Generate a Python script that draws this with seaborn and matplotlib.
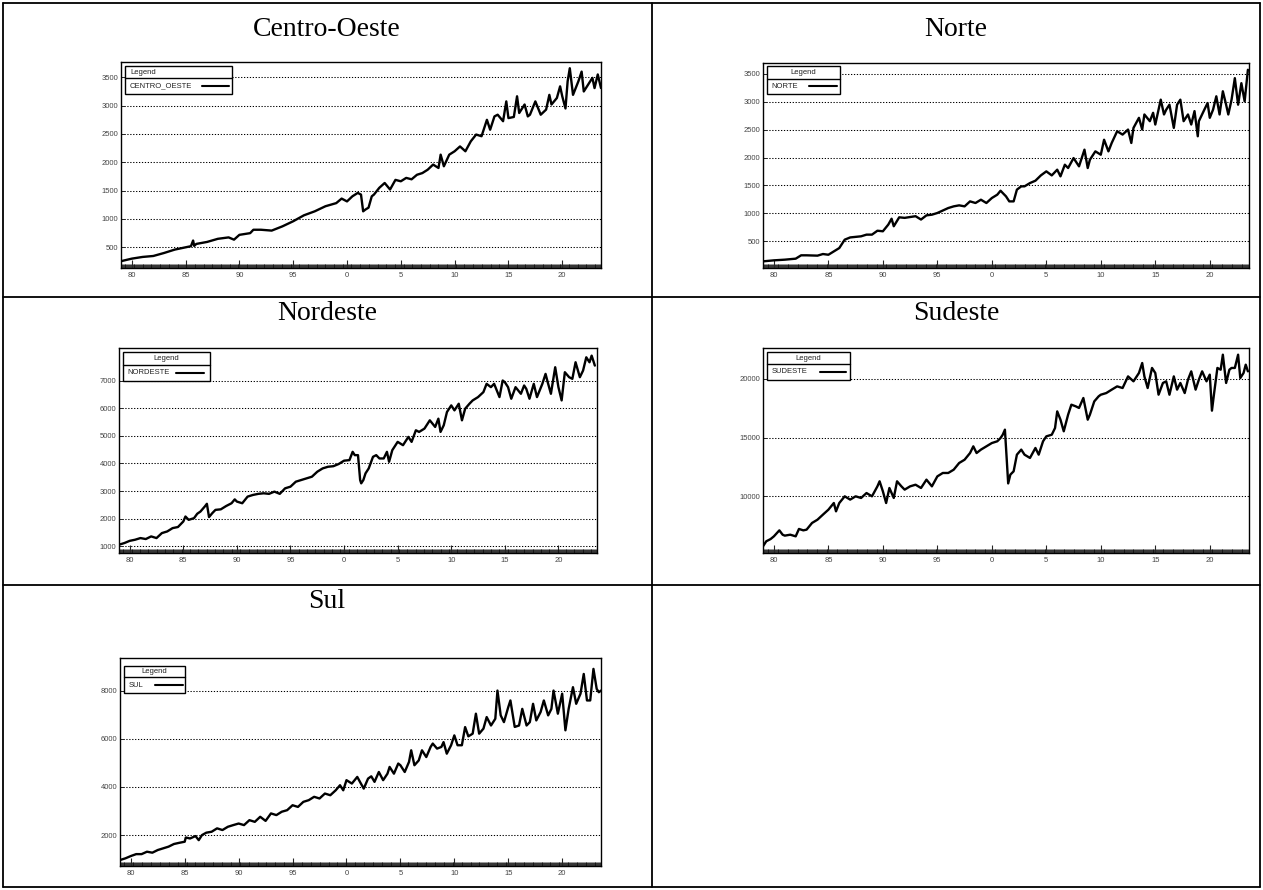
import matplotlib
matplotlib.use("Agg")
import numpy as np
import pandas as pd
import seaborn as sns
import matplotlib.pyplot as plt
from matplotlib.patches import Rectangle
from matplotlib.lines import Line2D
from matplotlib.ticker import MultipleLocator

# ---------------- data ----------------
co_t = [1979.0, 1980, 1981, 1982, 1983, 1984, 1985, 1985.5, 1985.7, 1985.8, 1986, 1987, 1988, 1989, 1989.5,
        1990, 1991, 1991.3, 1992, 1993, 1994, 1995, 1996, 1997, 1998, 1999, 1999.5, 2000, 2000.5, 2001,
        2001.3, 2001.5, 2001.7, 2002, 2002.3, 2002.5, 2003, 2003.5, 2004, 2004.5, 2005, 2005.5, 2006, 2006.5, 2007,
        2007.5, 2008, 2008.5, 2008.7, 2009, 2009.5, 2010, 2010.5, 2011, 2011.5, 2012, 2012.5, 2013, 2013.3, 2013.7,
        2014, 2014.5, 2014.8, 2015, 2015.5, 2015.8, 2016, 2016.5, 2016.8, 2017, 2017.5, 2018, 2018.5, 2018.8, 2019,
        2019.5, 2019.8, 2020, 2020.3, 2020.5, 2020.7, 2021, 2021.5, 2021.8, 2022, 2022.5, 2022.8, 2023, 2023.3, 2023.6]
co_v = [255, 300, 330, 347, 400, 460, 500, 520, 620, 525, 560, 595, 650, 675, 635,
        720, 750, 810, 810, 795, 870, 960, 1065, 1135, 1225, 1280, 1360, 1310, 1400, 1460,
        1430, 1135, 1165, 1200, 1400, 1430, 1550, 1635, 1520, 1690, 1665, 1725, 1700, 1780, 1810,
        1870, 1960, 1900, 2135, 1930, 2135, 2195, 2280, 2195, 2370, 2490, 2460, 2750, 2575, 2810,
        2840, 2725, 3075, 2780, 2800, 3165, 2870, 3020, 2810, 2840, 3075, 2840, 2930, 3190, 3020,
        3135, 3340, 3165, 2950, 3430, 3660, 3190, 3430, 3600, 3250, 3400, 3490, 3310, 3550, 3310]

no_t = [1979.0, 1980, 1981, 1982, 1982.5, 1983, 1984, 1984.5, 1985, 1985.5, 1986, 1986.5, 1987, 1988, 1988.5,
        1989, 1989.5, 1990, 1990.5, 1990.8, 1991, 1991.5, 1992, 1993, 1993.5, 1994, 1994.5, 1995, 1996, 1996.5,
        1997, 1997.5, 1998, 1998.5, 1999, 1999.5, 2000, 2000.5, 2000.8, 2001, 2001.3, 2001.6, 2002.0, 2002.3, 2002.7,
        2003, 2003.5, 2004, 2004.5, 2005, 2005.5, 2006, 2006.3, 2006.7, 2007, 2007.5, 2008, 2008.5, 2008.8, 2009,
        2009.5, 2010, 2010.3, 2010.7, 2011, 2011.5, 2012, 2012.5, 2012.8, 2013, 2013.5, 2013.8, 2014, 2014.5, 2014.8,
        2015, 2015.5, 2015.8, 2016, 2016.3, 2016.7, 2017, 2017.3, 2017.6, 2018, 2018.3, 2018.6, 2018.9, 2019, 2019.5,
        2019.8, 2020, 2020.3, 2020.6, 2020.9, 2021.2, 2021.5, 2021.7, 2022, 2022.3, 2022.6, 2022.9, 2023.2, 2023.5]
no_v = [142, 160, 172, 190, 250, 250, 244, 273, 260, 320, 380, 530, 570, 590, 620,
        620, 690, 680, 800, 905, 770, 930, 920, 950, 890, 965, 977, 1007, 1096, 1126,
        1144, 1126, 1215, 1186, 1245, 1186, 1275, 1335, 1406, 1365, 1305, 1215, 1215, 1425, 1484,
        1484, 1543, 1585, 1680, 1752, 1680, 1782, 1663, 1871, 1812, 1990, 1842, 2140, 1812, 1960,
        2110, 2050, 2318, 2110, 2260, 2470, 2410, 2500, 2260, 2530, 2710, 2500, 2770, 2650, 2800,
        2590, 3035, 2770, 2855, 2945, 2530, 2945, 3035, 2650, 2770, 2590, 2830, 2380, 2650, 2855,
        2975, 2710, 2855, 3095, 2770, 3185, 2945, 2770, 3035, 3420, 2945, 3330, 3005, 3570]

ne_t = [1979.0, 1979.5, 1980, 1980.5, 1981, 1981.5, 1982, 1982.5, 1983, 1983.5, 1984, 1984.5, 1985, 1985.2, 1985.5,
        1986, 1986.3, 1986.6, 1987, 1987.2, 1987.4, 1987.7, 1988, 1988.5, 1989, 1989.5, 1989.8, 1990, 1990.5, 1991,
        1991.5, 1992, 1992.5, 1993, 1993.5, 1994, 1994.5, 1995, 1995.5, 1996, 1996.5, 1997, 1997.5, 1998, 1998.5,
        1999, 1999.5, 2000, 2000.5, 2000.8, 2001, 2001.3, 2001.5, 2001.6, 2001.8, 2002, 2002.3, 2002.7, 2003, 2003.3,
        2003.7, 2004, 2004.2, 2004.5, 2005, 2005.5, 2006, 2006.3, 2006.7, 2007, 2007.5, 2008, 2008.5, 2008.8, 2009,
        2009.3, 2009.6, 2010, 2010.3, 2010.7, 2011, 2011.3, 2011.7, 2012, 2012.5, 2013, 2013.3, 2013.7, 2014, 2014.5,
        2014.8, 2015, 2015.3, 2015.6, 2016, 2016.5, 2016.8, 2017, 2017.3, 2017.7, 2018, 2018.5, 2018.8, 2019, 2019.3,
        2019.7, 2020, 2020.3, 2020.6, 2021, 2021.3, 2021.6, 2022, 2022.3, 2022.6, 2022.9, 2023.1, 2023.4]
ne_v = [1060, 1120, 1200, 1240, 1300, 1265, 1360, 1300, 1480, 1540, 1660, 1700, 1900, 2080, 1960,
        2020, 2180, 2260, 2440, 2540, 2060, 2200, 2320, 2340, 2460, 2560, 2700, 2620, 2560, 2800,
        2860, 2900, 2920, 2900, 2980, 2900, 3100, 3160, 3340, 3400, 3460, 3520, 3700, 3820, 3880,
        3900, 3980, 4100, 4120, 4420, 4300, 4300, 3400, 3280, 3400, 3640, 3820, 4240, 4300, 4180,
        4180, 4420, 4060, 4480, 4780, 4660, 4960, 4780, 5200, 5140, 5260, 5560, 5320, 5620, 5140,
        5380, 5860, 6100, 5920, 6160, 5560, 5980, 6160, 6280, 6400, 6580, 6880, 6760, 6880, 6400,
        7000, 6940, 6760, 6340, 6760, 6520, 6820, 6700, 6340, 6880, 6400, 6880, 7240, 6940, 6520,
        7480, 6760, 6280, 7300, 7120, 7060, 7660, 7120, 7360, 7840, 7660, 7900, 7540]

se_t = [1979.0, 1979.3, 1979.7, 1980, 1980.5, 1980.8, 1981, 1981.5, 1982, 1982.3, 1982.7, 1983, 1983.5, 1984, 1984.5,
        1985, 1985.5, 1985.7, 1986, 1986.5, 1987, 1987.5, 1988, 1988.5, 1989, 1989.5, 1989.7, 1990, 1990.3, 1990.6,
        1991, 1991.3, 1991.7, 1992, 1992.5, 1993, 1993.5, 1994, 1994.5, 1995, 1995.5, 1996, 1996.5, 1997, 1997.5,
        1998, 1998.3, 1998.6, 1999, 1999.5, 2000, 2000.5, 2000.8, 2001.0, 2001.2, 2001.35, 2001.5, 2001.7, 2002, 2002.3,
        2002.7, 2003, 2003.5, 2004, 2004.3, 2004.7, 2005, 2005.5, 2005.8, 2006, 2006.3, 2006.6, 2007, 2007.3, 2007.7,
        2008, 2008.4, 2008.8, 2009, 2009.4, 2009.8, 2010, 2010.5, 2011, 2011.5, 2012, 2012.5, 2013, 2013.5, 2013.8,
        2014, 2014.3, 2014.7, 2015, 2015.3, 2015.7, 2016, 2016.3, 2016.7, 2017, 2017.3, 2017.7, 2018, 2018.3, 2018.7,
        2019, 2019.3, 2019.7, 2020, 2020.2, 2020.4, 2020.7, 2021, 2021.2, 2021.5, 2021.8, 2022, 2022.3, 2022.6, 2022.8,
        2023.1, 2023.3, 2023.5]
se_v = [5740, 6170, 6360, 6590, 7100, 6730, 6650, 6730, 6590, 7220, 7100, 7160, 7730, 8010, 8440,
        8860, 9430, 8720, 9430, 10000, 9720, 10000, 9860, 10280, 10000, 10850, 11280, 10430, 9430, 10710,
        9860, 11280, 10850, 10570, 10850, 10990, 10710, 11420, 10850, 11700, 11990, 11990, 12270, 12840, 13120,
        13690, 14260, 13690, 13980, 14260, 14540, 14690, 14970, 15250, 15680, 13410, 11100, 11850, 12130, 13550,
        13980, 13550, 13270, 14120, 13550, 14690, 15110, 15250, 15820, 17240, 16530, 15540, 16960, 17810, 17670,
        17530, 18380, 16530, 16960, 18090, 18520, 18660, 18800, 19090, 19370, 19230, 20220, 19800, 20510, 21360,
        20220, 19230, 20940, 20510, 18660, 19660, 19800, 18660, 20220, 19090, 19660, 18800, 19940, 20650, 19090,
        19940, 20650, 19800, 20370, 17300, 18800, 20940, 20790, 22070, 19660, 20790, 20940, 20940, 22070, 20080,
        20510, 21220, 20650]

su_t = [1979.0, 1979.5, 1980, 1980.5, 1981, 1981.5, 1982, 1982.5, 1983, 1983.5, 1984, 1984.5, 1985, 1985.1, 1985.5,
        1986, 1986.3, 1986.6, 1987, 1987.5, 1988, 1988.5, 1989, 1989.5, 1990, 1990.5, 1991, 1991.5, 1992, 1992.5,
        1993, 1993.5, 1994, 1994.5, 1995, 1995.5, 1996, 1996.5, 1997, 1997.5, 1998, 1998.5, 1999, 1999.4, 1999.7,
        2000, 2000.5, 2001, 2001.3, 2001.6, 2002, 2002.3, 2002.6, 2003, 2003.4, 2003.8, 2004, 2004.4, 2004.8, 2005,
        2005.4, 2005.8, 2006, 2006.3, 2006.7, 2007, 2007.4, 2007.8, 2008, 2008.4, 2008.8, 2009, 2009.3, 2009.7, 2010,
        2010.3, 2010.7, 2011, 2011.3, 2011.7, 2012, 2012.3, 2012.7, 2013, 2013.4, 2013.8, 2014, 2014.3, 2014.6, 2015,
        2015.2, 2015.6, 2016, 2016.3, 2016.7, 2017, 2017.3, 2017.6, 2018, 2018.3, 2018.7, 2019, 2019.2, 2019.6, 2020,
        2020.3, 2020.6, 2021, 2021.3, 2021.7, 2022, 2022.3, 2022.6, 2022.9, 2023.2, 2023.4, 2023.6]
su_v = [965, 1035, 1130, 1210, 1210, 1310, 1270, 1380, 1450, 1520, 1630, 1680, 1725, 1900, 1860,
        1960, 1790, 2000, 2100, 2140, 2280, 2210, 2345, 2415, 2480, 2415, 2620, 2550, 2760, 2590,
        2900, 2830, 2970, 3035, 3240, 3170, 3380, 3450, 3590, 3520, 3725, 3655, 3860, 4070, 3860,
        4280, 4140, 4415, 4170, 3930, 4345, 4440, 4210, 4620, 4280, 4550, 4830, 4550, 4970, 4900,
        4620, 5040, 5520, 4900, 5100, 5520, 5240, 5660, 5800, 5590, 5660, 5860, 5380, 5730, 6140,
        5730, 5730, 6485, 6100, 6210, 7040, 6210, 6420, 6900, 6550, 6830, 8000, 6970, 6690, 7310,
        7590, 6490, 6550, 7240, 6550, 6690, 7450, 6760, 7110, 7590, 6970, 7240, 8000, 7040, 7870,
        6350, 7240, 8140, 7450, 7870, 8690, 7590, 7590, 8900, 8070, 7930, 8000]

titles = ["Centro-Oeste", "Norte", "Nordeste", "Sudeste", "Sul"]
series_names = ["CENTRO_OESTE", "NORTE", "NORDESTE", "SUDESTE", "SUL"]
x_tick_years = [1980, 1985, 1990, 1995, 2000, 2005, 2010, 2015, 2020]
x_tick_labels = ["80", "85", "90", "95", "0", "5", "10", "15", "20"]
y_ticks = [[500, 1000, 1500, 2000, 2500, 3000, 3500],
           [500, 1000, 1500, 2000, 2500, 3000, 3500],
           [1000, 2000, 3000, 4000, 5000, 6000, 7000],
           [10000, 15000, 20000],
           [2000, 4000, 6000, 8000]]

# ---------------- layout ----------------
W, H = 1263, 890
sns.set_style("white")
plt.rcParams["font.family"] = ["Liberation Sans", "DejaVu Sans"]

fig = plt.figure(figsize=(W / 100, H / 100), dpi=100)
fig.patch.set_facecolor("white")

def fline(x0, y0, x1, y1, lw=1.3):
    fig.add_artist(Line2D([x0 / W, x1 / W], [1 - y0 / H, 1 - y1 / H],
                          transform=fig.transFigure, color="black", lw=lw))

# table borders
fline(3, 3, 1260, 3)
fline(3, 887, 1260, 887)
fline(3, 3, 3, 887)
fline(1260, 3, 1260, 887)
fline(652, 3, 652, 887)
fline(3, 297, 1260, 297)
fline(3, 585, 1260, 585)

# (series, title centre (x,y), axes box (l,t,r,b) px, ylim, legend geometry, header alignment)
panels = [
    (co_t, co_v, (327, 30), (121, 62, 601, 268), (135, 3770),
     dict(x1=0.231, top=0.979, div=0.922, bot=0.845, s0=0.168, s1=0.226), "left"),
    (no_t, no_v, (956, 30), (763, 63, 1249, 268), (23, 3691),
     dict(x1=0.159, top=0.984, div=0.922, bot=0.850, s0=0.095, s1=0.152), "center"),
    (ne_t, ne_v, (327, 313), (119, 348, 597, 553), (760, 8176),
     dict(x1=0.191, top=0.979, div=0.917, bot=0.841, s0=0.119, s1=0.177), "center"),
    (se_t, se_v, (956, 313), (763, 348, 1249, 553), (5170, 22640),
     dict(x1=0.180, top=0.980, div=0.922, bot=0.846, s0=0.117, s1=0.171), "center"),
    (su_t, su_v, (327, 602), (120, 658, 601, 866), (717, 9352),
     dict(x1=0.135, top=0.963, div=0.907, bot=0.832, s0=0.073, s1=0.131), "center"),
]

for i, (t, v, tpos, box, ylim, lg, halign) in enumerate(panels):
    fig.text(tpos[0] / W, 1 - tpos[1] / H, titles[i], ha="center", va="center",
             fontsize=20, color="black", family=["Liberation Serif", "DejaVu Serif"])
    l, tp, r, b = box
    ax = fig.add_axes([l / W, 1 - b / H, (r - l) / W, (b - tp) / H])
    df = pd.DataFrame({"t": t, "v": v})
    sns.lineplot(data=df, x="t", y="v", ax=ax, color="black", linewidth=1.7,
                 estimator=None, sort=False, legend=False)
    ax.set_xlim(1979.0, 2023.6)
    ax.set_ylim(*ylim)
    ax.set_xlabel("")
    ax.set_ylabel("")
    ax.set_xticks(x_tick_years)
    ax.set_xticklabels(x_tick_labels)
    ax.xaxis.set_minor_locator(MultipleLocator(1 / 12))
    ax.set_yticks(y_ticks[i])
    ax.set_yticklabels([str(y) for y in y_ticks[i]])
    ax.tick_params(axis="x", which="major", direction="in", length=5.5, width=0.8,
                   labelsize=5.5, labelcolor="#444444", pad=3, top=False, bottom=True)
    ax.tick_params(axis="x", which="minor", direction="in", length=3.2, width=0.6,
                   top=False, bottom=True, color="#111111")
    ax.tick_params(axis="y", which="major", direction="in", length=3, width=0.7,
                   labelsize=5.5, labelcolor="#444444", pad=2, left=True, right=False)
    ax.yaxis.grid(True, linestyle=(0, (1.2, 1.6)), color="black", lw=0.75)
    ax.xaxis.grid(False)
    ax.set_axisbelow(True)
    for sp in ax.spines.values():
        sp.set_visible(True)
        sp.set_color("black")
        sp.set_linewidth(1.0)

    # legend box (ROOT style)
    x0 = 0.008
    ax.add_patch(Rectangle((x0, lg["bot"]), lg["x1"] - x0, lg["top"] - lg["bot"],
                           transform=ax.transAxes, facecolor="white", edgecolor="black",
                           lw=1.0, zorder=5, clip_on=False))
    ax.add_line(Line2D([x0, lg["x1"]], [lg["div"], lg["div"]], transform=ax.transAxes,
                       color="black", lw=1.0, zorder=6))
    hy = (lg["top"] + lg["div"]) / 2
    if halign == "left":
        ax.text(x0 + 0.012, hy, "Legend", transform=ax.transAxes, ha="left", va="center",
                fontsize=5.5, color="#222222", zorder=7)
    else:
        ax.text((x0 + lg["x1"]) / 2, hy, "Legend", transform=ax.transAxes, ha="center",
                va="center", fontsize=5.5, color="#222222", zorder=7)
    ey = (lg["div"] + lg["bot"]) / 2
    ax.text(x0 + 0.01, ey, series_names[i], transform=ax.transAxes, ha="left", va="center",
            fontsize=5.5, color="#222222", zorder=7)
    ax.add_line(Line2D([lg["s0"], lg["s1"]], [ey, ey], transform=ax.transAxes,
                       color="black", lw=1.5, zorder=7))

fig.savefig("out.png", dpi=100, facecolor="white")
